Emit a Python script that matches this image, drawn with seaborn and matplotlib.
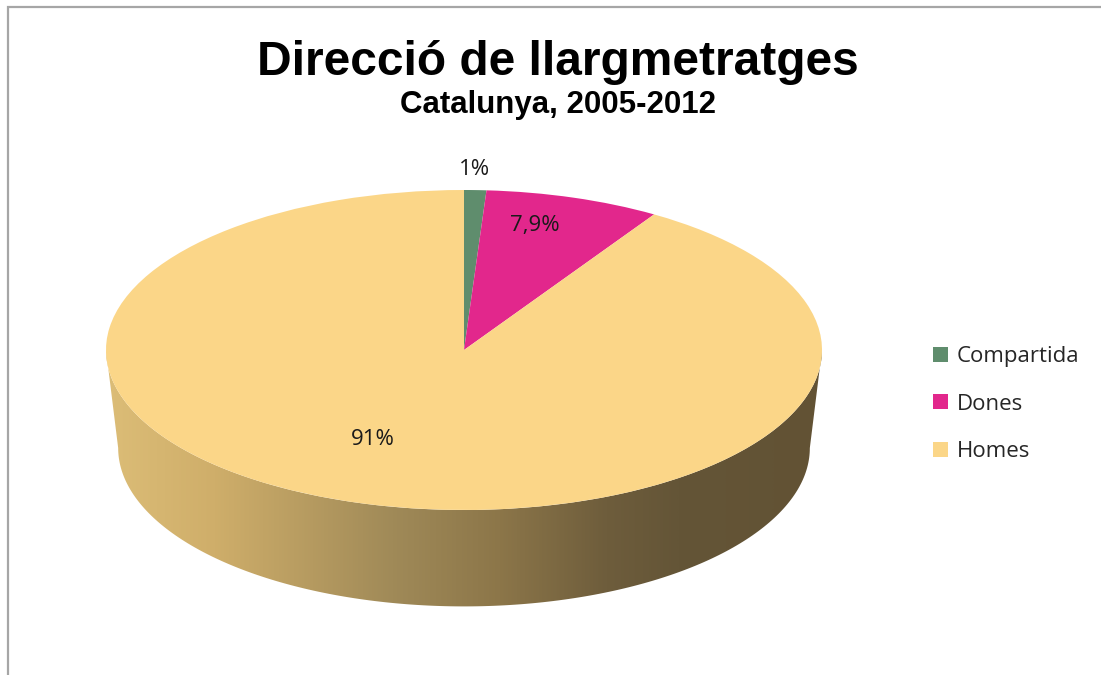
import numpy as np
import matplotlib
matplotlib.use('Agg')
import matplotlib.pyplot as plt
import seaborn as sns
from matplotlib.colors import LinearSegmentedColormap
from matplotlib.patches import Polygon, Rectangle

# ---- data ----
categories = ['Compartida', 'Dones', 'Homes']
values = [1.0, 7.9, 91.0]
value_labels = ['1%', '7,9%', '91%']
colors = ['#5f8d6d', '#e2278c', '#fbd688']
title = 'Direcció de llargmetratges'
subtitle = 'Catalunya, 2005-2012'

sns.set_theme(style='white')
plt.rcParams['font.family'] = ['Open Sans', 'DejaVu Sans']
palette = sns.color_palette(colors)

W, H = 1101, 675
fig = plt.figure(figsize=(W / 100, H / 100), dpi=100)
fig.patch.set_facecolor('white')

# ellipse geometry (pixels)
cx, cy, rx, ry = 464, 350, 358, 160
depth = 98 / ry
apex_dy = 25 / ry   # perspective offset of the label origin

ax = fig.add_axes([0, 0, 1, 1])
wedges, _ = ax.pie(values, colors=palette, startangle=90, counterclock=False,
                   radius=1, center=(0, 0), wedgeprops=dict(linewidth=0, zorder=2))

# 3-D side of the pie (front half of the extruded ellipse)
t = np.linspace(np.pi, 2 * np.pi, 200)
top = np.column_stack([np.cos(t), np.sin(t)])
bot = np.column_stack([0.966 * np.cos(t[::-1]), -depth + 0.99 * np.sin(t[::-1])])
side = Polygon(np.vstack([top, bot]), closed=True, facecolor='none', edgecolor='none',
               transform=ax.transData)
ax.add_patch(side)
cmap = LinearSegmentedColormap.from_list('side', [
    (0.0, '#dcbd77'), (0.15, '#cfae6a'), (0.4, '#a08a58'),
    (0.55, '#8c7649'), (0.7, '#6e5d3c'), (0.8, '#645537'), (1.0, '#625234')])
grad = np.linspace(0, 1, 512).reshape(1, -1)
im = ax.imshow(grad, cmap=cmap, extent=(-1, 1, -depth - 1, 0.1), aspect='auto',
               zorder=1, interpolation='bilinear')
im.set_clip_path(side)

ax.set_aspect('auto')
ax.set_xlim(-cx / rx, (W - cx) / rx)
ax.set_ylim(-(H - cy) / ry, cy / ry)
ax.axis('off')

# data labels
dists = [0.97, 0.65, 0.76]
angle_adj = [0, 0, -3.5]
for w, lab, d, a in zip(wedges, value_labels, dists, angle_adj):
    mid = np.deg2rad((w.theta1 + w.theta2) / 2 + a)
    ax.text(d * np.cos(mid), apex_dy + d * np.sin(mid), lab, ha='center', va='center',
            fontsize=16, color='#1a1a1a', zorder=5)

# legend
ax.legend(wedges, categories, loc='center left', bbox_to_anchor=(913 / W, 1 - 404 / H),
          frameon=False, fontsize=16, handlelength=0.66, handleheight=0.66,
          labelspacing=1.2, handletextpad=0.4)

# titles
fig.text(558 / W, 1 - 75 / H, title, ha='center', va='baseline', fontsize=34.5,
         fontweight='bold', family=['Liberation Sans', 'DejaVu Sans'], color='black')
fig.text(558 / W, 1 - 113 / H, subtitle, ha='center', va='baseline', fontsize=22.5,
         fontweight='bold', family=['Liberation Sans', 'DejaVu Sans'], color='black')

# chart border
fig.add_artist(Rectangle((8 / W, -0.1), 1.2, (H - 7) / H + 0.1, transform=fig.transFigure,
                         fill=False, edgecolor='#a6a6a6', linewidth=1.6))

fig.savefig('out.png', dpi=100)
